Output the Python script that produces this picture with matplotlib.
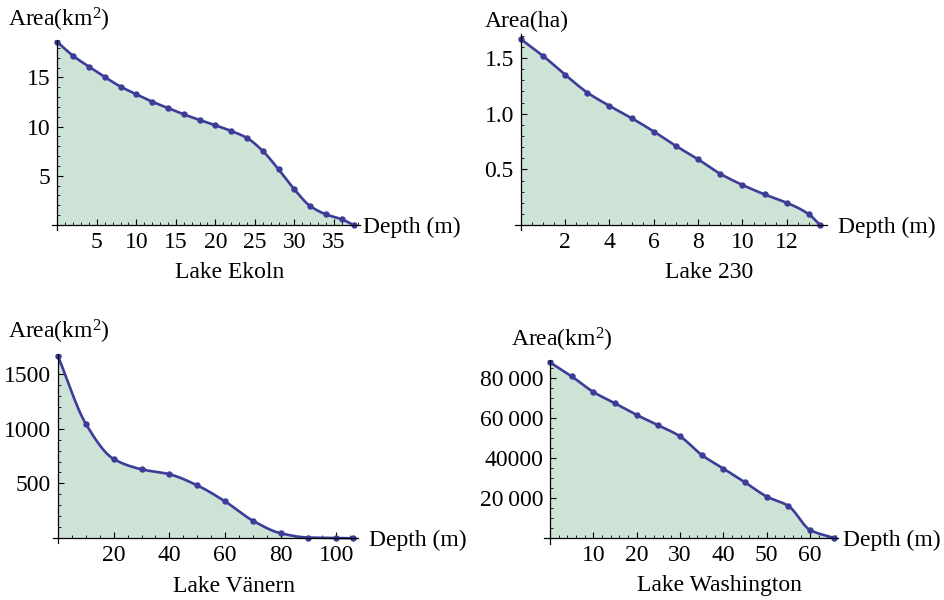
import numpy as np
import matplotlib
matplotlib.use("Agg")
import matplotlib.pyplot as plt

plt.rcParams['font.family'] = ['Liberation Serif', 'DejaVu Serif']
plt.rcParams['mathtext.fontset'] = 'custom'
plt.rcParams['mathtext.rm'] = 'Liberation Serif'
plt.rcParams['mathtext.it'] = 'Liberation Serif'
plt.rcParams['mathtext.bf'] = 'Liberation Serif'

# ---------------- data ----------------
ekoln_depth = [0, 2, 4, 6, 8, 10, 12, 14, 16, 18, 20, 22, 24, 26, 28, 30, 32, 34, 36, 37.5]
ekoln_area = [18.6, 17.2, 16.1, 15.05, 14.07, 13.29, 12.54, 11.9, 11.25, 10.68,
              10.14, 9.56, 8.85, 7.53, 5.66, 3.63, 1.93, 1.08, 0.58, 0.0]

l230_depth = [0, 1, 2, 3, 4, 5, 6, 7, 8, 9, 10, 11, 12, 13, 13.5]
l230_area = [1.67, 1.52, 1.35, 1.19, 1.07, 0.96, 0.84, 0.71, 0.59, 0.46,
             0.36, 0.275, 0.20, 0.096, 0.0]

vanern_depth = [0, 10, 20, 30, 40, 50, 60, 70, 80, 90, 100, 106]
vanern_area = [1660, 1043, 723, 629, 584, 483, 337, 161, 46, 7, 3, 0]

wash_depth = [0, 5, 10, 15, 20, 25, 30, 35, 40, 45, 50, 55, 60, 65.5]
wash_area = [87800, 80800, 73000, 67300, 61500, 56300, 50800, 41500, 34700,
             27800, 20700, 16000, 4000, 0]

ekoln_xticks = [5, 10, 15, 20, 25, 30, 35]
ekoln_yticks = [5, 10, 15]
l230_xticks = [2, 4, 6, 8, 10, 12]
l230_yticks = [0.5, 1.0, 1.5]
l230_yticklabels = ['0.5', '1.0', '1.5']
vanern_xticks = [20, 40, 60, 80, 100]
vanern_yticks = [500, 1000, 1500]
wash_xticks = [10, 20, 30, 40, 50, 60]
wash_yticks = [20000, 40000, 60000, 80000]
wash_yticklabels = ['20\u2009000', '40000', '60\u2009000', '80\u2009000']

titles = ['Lake Ekoln', 'Lake 230', 'Lake V\u00e4nern', 'Lake Washington']
ylabels = ['Area(km$^2$)', 'Area(ha)', 'Area(km$^2$)', 'Area(km$^2$)']
xlabel = 'Depth (m)'

LINE = '#3d3d99'
FILL = '#cce3d5'
FS = 17

W, H = 945, 600
fig = plt.figure(figsize=(W / 100, H / 100), dpi=100)


def pchip(x, y, n=400):
    x = np.asarray(x, float)
    y = np.asarray(y, float)
    h = np.diff(x)
    d = np.diff(y) / h
    m = np.zeros_like(y)
    for k in range(1, len(x) - 1):
        if d[k - 1] * d[k] > 0:
            w1 = 2 * h[k] + h[k - 1]
            w2 = h[k] + 2 * h[k - 1]
            m[k] = (w1 + w2) / (w1 / d[k - 1] + w2 / d[k])
    m[0] = d[0]
    m[-1] = d[-1]
    xs = np.linspace(x[0], x[-1], n)
    idx = np.clip(np.searchsorted(x, xs) - 1, 0, len(h) - 1)
    t = (xs - x[idx]) / h[idx]
    h00 = 2 * t**3 - 3 * t**2 + 1
    h10 = t**3 - 2 * t**2 + t
    h01 = -2 * t**3 + 3 * t**2
    h11 = t**3 - t**2
    ys = h00 * y[idx] + h10 * h[idx] * m[idx] + h01 * y[idx + 1] + h11 * h[idx] * m[idx + 1]
    return xs, ys


def make_panel(px_left, px_right, px_top, px_bottom, xlim, ylim, xd, yd,
               xticks, yticks, xminor, yminor, title, title_xy, ylabel,
               ylabel_xy, xlabel_x, ytlabels=None):
    ax = fig.add_axes([px_left / W, 1 - px_bottom / H,
                       (px_right - px_left) / W, (px_bottom - px_top) / H])
    ax.set_xlim(*xlim)
    ax.set_ylim(*ylim)
    ax.patch.set_alpha(0)
    for s in ['top', 'right']:
        ax.spines[s].set_visible(False)
    ax.spines['left'].set_position(('data', 0))
    ax.spines['bottom'].set_position(('data', 0))
    for s in ['left', 'bottom']:
        ax.spines[s].set_linewidth(0.9)
    xs, ys = pchip(xd, yd)
    ax.fill_between(xs, 0, ys, color=FILL, lw=0, zorder=1)
    ax.plot(xs, ys, color=LINE, lw=1.9, zorder=3, solid_capstyle='round')
    ax.plot(xd, yd, 'o', color=LINE, ms=3.6, zorder=4)
    ax.set_xticks(xticks)
    ax.set_yticks(yticks)
    if ytlabels is not None:
        ax.set_yticklabels(ytlabels)
    ax.set_xticks(xminor, minor=True)
    ax.set_yticks(yminor, minor=True)
    ax.tick_params(which='major', direction='in', length=4.5, width=0.8,
                   labelsize=FS, pad=5)
    ax.tick_params(which='minor', direction='in', length=2.5, width=0.6)
    ax.tick_params(axis='y', which='major', pad=5)
    for ax_ in ax.spines.values():
        ax_.set_zorder(5)
    y0_px = px_bottom - (0 - ylim[0]) * (px_bottom - px_top) / (ylim[1] - ylim[0])
    fig.text(xlabel_x / W, 1 - y0_px / H,
             xlabel, fontsize=FS, ha='left', va='center_baseline')
    fig.text(title_xy[0] / W, 1 - title_xy[1] / H, title, fontsize=FS,
             ha='center', va='center')
    fig.text(ylabel_xy[0] / W, 1 - ylabel_xy[1] / H, ylabel, fontsize=FS,
             ha='left', va='center')
    return ax


make_panel(51.8, 359.9, 40.1, 229.9, (-0.7, 38.3), (-0.5, 18.8),
           ekoln_depth, ekoln_area, ekoln_xticks, ekoln_yticks,
           np.arange(1, 39, 1), np.arange(1, 19, 1),
           titles[0], (230, 272), ylabels[0], (8, 20), 363)

make_panel(515.0, 826.7, 33.5, 229.5, (-0.26, 13.8), (-0.04, 1.72),
           l230_depth, l230_area, l230_xticks, l230_yticks,
           np.arange(0.5, 14, 0.5), np.arange(0.1, 1.75, 0.1),
           titles[1], (709, 272), ylabels[1], (485, 21), 838,
           ytlabels=l230_yticklabels)

make_panel(53.3, 358.3, 354.0, 542.7, (-1.7, 107.9), (-40, 1680),
           vanern_depth, vanern_area, vanern_xticks, vanern_yticks,
           np.arange(5, 108, 5), np.arange(100, 1700, 100),
           titles[2], (234, 586), ylabels[2], (8, 332), 369)

make_panel(544.0, 838.3, 360.0, 544.0, (-1.4, 66.5), (-3000, 89000),
           wash_depth, wash_area, wash_xticks, wash_yticks,
           np.arange(2, 67, 2), np.arange(5000, 89000, 5000),
           titles[3], (719, 586), ylabels[3], (511, 340), 843,
           ytlabels=wash_yticklabels)

fig.savefig('out.png', dpi=100)
